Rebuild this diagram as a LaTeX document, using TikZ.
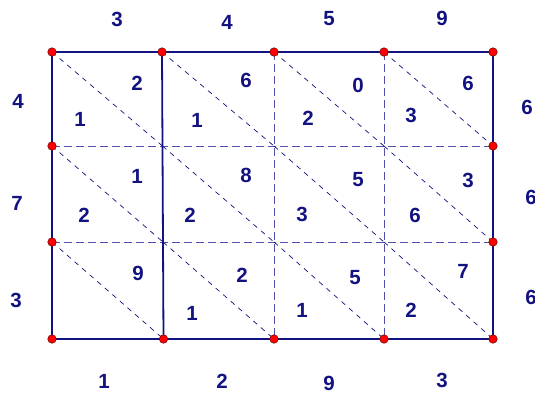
\documentclass[tikz,border=0pt]{standalone}
\usepackage{fontspec}
\setmainfont{Liberation Sans}
\definecolor{navy}{RGB}{18,18,128}
\definecolor{dashblue}{RGB}{80,80,175}
\begin{document}
\begin{tikzpicture}[x=1pt,y=-1pt,
 dig/.style={font=\fontsize{20.5}{24}\selectfont\bfseries, text=navy, inner sep=0pt},
 frame/.style={draw=navy, line width=1.8pt},
 gridline/.style={draw=dashblue, line width=1pt, dash pattern=on 8pt off 4pt},
 diag/.style={draw=navy, line width=0.7pt, dash pattern=on 5pt off 5pt},
 dot/.style={circle, fill=red, draw=black!60!red, line width=0.5pt, inner sep=0pt, minimum size=8.5pt}]
\useasboundingbox[fill=white] (0,0) rectangle (535,394);
% grid points
\foreach \i/\x in {0/52,2/274,3/384,4/493}
  \foreach \j/\y in {0/52,1/146,2/242,3/339}
    \coordinate (p\i\j) at (\x,\y);
\coordinate (p10) at (162,52);
\coordinate (p11) at (162.5,146);
\coordinate (p12) at (163,242);
\coordinate (p13) at (163.5,339);
% dashed grid
\draw[gridline] (p01) -- (p41);
\draw[gridline] (p02) -- (p42);
\draw[gridline] (p20) -- (p23);
\draw[gridline] (p30) -- (p33);
% diagonals
\foreach \a/\b in {p00/p11,p10/p21,p20/p31,p30/p41,
                   p01/p12,p11/p22,p21/p32,p31/p42,
                   p02/p13,p12/p23,p22/p33,p32/p43}
  \draw[diag] (\a) -- (\b);
% frame
\draw[frame] (p00) rectangle (p43);
\draw[frame] (p10) -- (p13);
% dots
\foreach \n in {p00,p10,p20,p30,p40,p01,p02,p03,p41,p42,p43,p13,p23,p33}
  \node[dot] (d\n) at (\n) {};
% top labels
\node[dig] (t1) at (117,19) {3};
\node[dig] (t2) at (227,22) {4};
\node[dig] (t3) at (329,19) {5};
\node[dig] (t4) at (442,18) {9};
% left labels
\node[dig] (l1) at (18,101) {4};
\node[dig] (l2) at (17,203) {7};
\node[dig] (l3) at (16,300) {3};
% right labels
\node[dig] (r1) at (527,107) {6};
\node[dig] (r2) at (531,197) {6};
\node[dig] (r3) at (531,297) {6};
% bottom labels
\node[dig] (b1) at (104,381) {1};
\node[dig] (b2) at (222,381) {2};
\node[dig] (b3) at (329,383) {9};
\node[dig] (b4) at (442,380) {3};
% row 1
\node[dig] (c11a) at (137,83) {2};
\node[dig] (c11b) at (80,119) {1};
\node[dig] (c12a) at (246,80) {6};
\node[dig] (c12b) at (197,120) {1};
\node[dig] (c13a) at (358,85) {0};
\node[dig] (c13b) at (308,118) {2};
\node[dig] (c14a) at (468,83) {6};
\node[dig] (c14b) at (411,115) {3};
% row 2
\node[dig] (c21a) at (137,176) {1};
\node[dig] (c21b) at (84,215) {2};
\node[dig] (c22a) at (246,175) {8};
\node[dig] (c22b) at (190,215) {2};
\node[dig] (c23a) at (358,180) {5};
\node[dig] (c23b) at (302,214) {3};
\node[dig] (c24a) at (468,180) {3};
\node[dig] (c24b) at (415,215) {6};
% row 3
\node[dig] (c31a) at (138,273) {9};
\node[dig] (c32a) at (242,275) {2};
\node[dig] (c32b) at (192,313) {1};
\node[dig] (c33a) at (355,278) {5};
\node[dig] (c33b) at (302,310) {1};
\node[dig] (c34a) at (463,271) {7};
\node[dig] (c34b) at (411,310) {2};
\end{tikzpicture}
\end{document}
